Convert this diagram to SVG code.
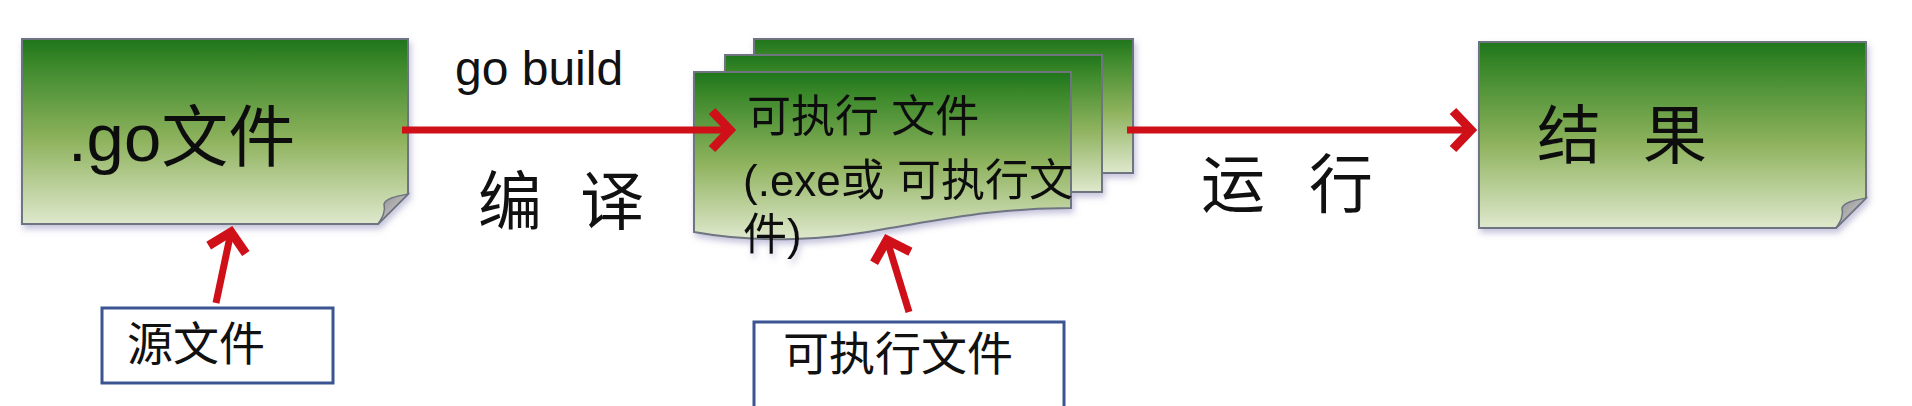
<svg xmlns="http://www.w3.org/2000/svg" width="1912" height="406" viewBox="0 0 1912 406">
<style>
.t{font-family:"Liberation Sans","Noto Sans CJK SC",sans-serif;fill:#111}
.doc{fill:url(#g);stroke:#6e7480;stroke-width:2}
.fold{fill:url(#fg);stroke:#6e7480;stroke-width:1.5}
.lbl{fill:#fff;stroke:#3b5592;stroke-width:3}
.arr{fill:none;stroke:#d01018;stroke-width:7;marker-end:url(#ah)}
</style>
<defs>
<linearGradient id="g" x1="0" y1="0" x2="0" y2="1">
<stop offset="0" stop-color="#1f751c"/>
<stop offset="0.15" stop-color="#3e8a2c"/>
<stop offset="0.55" stop-color="#8fb35e"/>
<stop offset="1" stop-color="#dfe8cd"/>
</linearGradient>
<linearGradient id="fg" x1="0" y1="0" x2="1" y2="1">
<stop offset="0" stop-color="#8c8c8c"/>
<stop offset="1" stop-color="#dcdcdc"/>
</linearGradient>
<filter id="sh" x="-5%" y="-5%" width="112%" height="120%">
<feDropShadow dx="2" dy="4" stdDeviation="3" flood-color="#8a86b8" flood-opacity="0.5"/>
</filter>
<marker id="ah" markerUnits="userSpaceOnUse" viewBox="-5 -5 30 48" refX="18" refY="19" markerWidth="30" markerHeight="48" orient="auto">
<path d="M0,0 L18,19 L0,38" fill="none" stroke="#d01018" stroke-width="9" stroke-linejoin="miter"/>
</marker>
</defs>

<g id="go-file" filter="url(#sh)">
<path class="doc" d="M22,39 H408 V194 L378,224 H22 Z"/>
<path class="fold" d="M408,194 C398,196 386,198 384,204 C386,212 382,218 378,224 Z"/>
<text class="t" x="68" y="161" font-size="67">.go文件</text>
</g>

<g id="executable" filter="url(#sh)">
<rect class="doc" x="754" y="39" width="379" height="134"/>
<rect class="doc" x="725" y="55" width="377" height="137"/>
<path class="doc" d="M694,72 H1071 V208 C1000,208 950,218 890,228 C830,240 760,244 694,232 Z"/>
<text class="t" font-size="44"><tspan x="747" y="132">可执行 文件</tspan><tspan x="743" y="196">(.exe或 可执行文</tspan><tspan x="743" y="250">件)</tspan></text>
</g>

<g id="result" filter="url(#sh)">
<path class="doc" d="M1479,42 H1866 V198 L1836,228 H1479 Z"/>
<path class="fold" d="M1866,198 C1856,200 1844,202 1842,208 C1844,216 1840,222 1836,228 Z"/>
<text class="t" x="1537" y="158" font-size="64">结 <tspan x="1643">果</tspan></text>
</g>

<g id="source-label">
<rect class="lbl" x="102" y="308" width="231" height="75"/>
<text class="t" x="127" y="360" font-size="46">源文件</text>
</g>

<g id="exe-label">
<rect class="lbl" x="754" y="322" width="310" height="100"/>
<text class="t" x="783" y="370" font-size="46">可执行文件</text>
</g>

<g id="edge-labels">
<text class="t" x="455" y="85" font-size="48">go build</text>
<text class="t" x="478" y="224" font-size="64">编 <tspan x="580">译</tspan></text>
<text class="t" x="1201" y="207" font-size="64">运 <tspan x="1309">行</tspan></text>
</g>

<g id="connectors">
<path class="arr" d="M402,130 H730"/>
<path class="arr" d="M1127,130 H1471"/>
<path class="arr" d="M216,303 L231,232"/>
<path class="arr" d="M909,312 L887,240"/>
</g>
</svg>
